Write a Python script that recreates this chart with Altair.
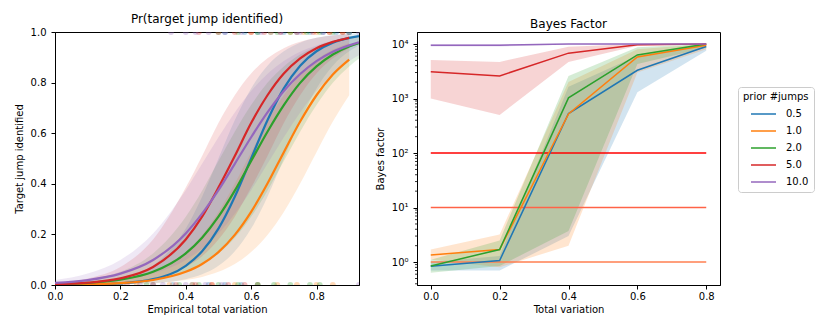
import altair as alt
import pandas as pd

PRIORS = ["0.5", "1.0", "2.0", "5.0", "10.0"]
COLORS = ["#1f77b4", "#ff7f0e", "#2ca02c", "#d62728", "#9467bd"]

# ---------------- left panel: logistic fits ----------------
TV_GRID = [0.0, 0.1, 0.2, 0.3, 0.4, 0.45, 0.5, 0.55, 0.6, 0.65, 0.7, 0.75, 0.8, 0.85, 0.9, 0.93]

P_MEAN_05 = [0.0006, 0.0019, 0.0067, 0.023, 0.076, 0.133, 0.223, 0.349, 0.5, 0.651, 0.777, 0.867, 0.924, 0.958, 0.977, 0.984]
P_LO_05 = [0.0002, 0.0006, 0.0019, 0.0067, 0.023, 0.042, 0.076, 0.133, 0.223, 0.349, 0.5, 0.651, 0.777, 0.867, 0.924, 0.947]
P_HI_05 = [0.0019, 0.0067, 0.023, 0.076, 0.223, 0.349, 0.5, 0.651, 0.777, 0.867, 0.924, 0.958, 0.977, 0.988, 0.993, 0.995]

P_MEAN_10 = [0.001, 0.0027, 0.0074, 0.0198, 0.052, 0.083, 0.13, 0.198, 0.289, 0.401, 0.525, 0.646, 0.75, 0.832, 0.891, None]
P_LO_10 = [0.0004, 0.001, 0.0027, 0.0074, 0.0198, 0.032, 0.052, 0.083, 0.13, 0.198, 0.289, 0.401, 0.525, 0.646, 0.75, None]
P_HI_10 = [0.0027, 0.0074, 0.0198, 0.052, 0.13, 0.198, 0.289, 0.401, 0.525, 0.646, 0.75, 0.832, 0.891, 0.931, 0.957, None]

P_MEAN_20 = [0.0032, 0.0082, 0.021, 0.052, 0.125, 0.187, 0.27, 0.373, 0.49, 0.606, 0.711, 0.799, 0.864, 0.911, 0.943, 0.956]
P_LO_20 = [0.0012, 0.0032, 0.0082, 0.021, 0.052, 0.082, 0.125, 0.187, 0.27, 0.373, 0.49, 0.606, 0.711, 0.799, 0.864, 0.895]
P_HI_20 = [0.0082, 0.021, 0.052, 0.125, 0.27, 0.373, 0.49, 0.606, 0.711, 0.799, 0.864, 0.911, 0.943, 0.964, 0.977, 0.983]

P_MEAN_50 = [0.0033, 0.0093, 0.026, 0.071, 0.18, 0.27, 0.385, 0.51, 0.64, 0.75, 0.836, 0.896, 0.936, 0.961, 0.977, None]
P_LO_50 = [0.0011, 0.0033, 0.0093, 0.026, 0.071, 0.114, 0.18, 0.27, 0.385, 0.51, 0.64, 0.75, 0.836, 0.896, 0.936, None]
P_HI_50 = [0.0093, 0.026, 0.071, 0.18, 0.385, 0.51, 0.64, 0.75, 0.836, 0.896, 0.936, 0.961, 0.977, 0.986, 0.992, None]

P_MEAN_100 = [0.0085, 0.0196, 0.045, 0.099, 0.204, 0.282, 0.375, 0.479, 0.584, 0.682, 0.767, 0.834, 0.885, 0.922, 0.947, 0.959]
P_LO_100 = [0.0037, 0.0085, 0.0196, 0.045, 0.099, 0.144, 0.204, 0.282, 0.375, 0.479, 0.584, 0.682, 0.767, 0.834, 0.885, 0.908]
P_HI_100 = [0.0196, 0.045, 0.099, 0.204, 0.375, 0.479, 0.584, 0.682, 0.767, 0.834, 0.885, 0.922, 0.947, 0.965, 0.977, 0.982]

P_MEAN = [P_MEAN_05, P_MEAN_10, P_MEAN_20, P_MEAN_50, P_MEAN_100]
P_LO = [P_LO_05, P_LO_10, P_LO_20, P_LO_50, P_LO_100]
P_HI = [P_HI_05, P_HI_10, P_HI_20, P_HI_50, P_HI_100]

# observed outcomes (identified = 1, missed = 0)
HITS_05 = [0.52, 0.58, 0.62, 0.66, 0.70, 0.74, 0.78, 0.82, 0.86, 0.90]
HITS_10 = [0.60, 0.66, 0.72, 0.76, 0.80, 0.84, 0.88]
HITS_20 = [0.50, 0.56, 0.62, 0.68, 0.72, 0.77, 0.81, 0.85, 0.90]
HITS_50 = [0.44, 0.50, 0.55, 0.60, 0.64, 0.69, 0.74, 0.79, 0.84, 0.88]
HITS_100 = [0.355, 0.40, 0.43, 0.47, 0.52, 0.57, 0.63, 0.69, 0.75, 0.82, 0.90, 0.93]
MISS_05 = [0.05, 0.20, 0.30, 0.36, 0.42, 0.47, 0.52, 0.57, 0.62]
MISS_10 = [0.10, 0.25, 0.35, 0.42, 0.48, 0.55, 0.62, 0.68, 0.74, 0.80, 0.85]
MISS_20 = [0.02, 0.15, 0.28, 0.38, 0.44, 0.50, 0.56, 0.62, 0.67, 0.72, 0.78, 0.81]
MISS_50 = [0.0, 0.12, 0.22, 0.30, 0.37, 0.43, 0.48, 0.53, 0.58]
MISS_100 = [0.03, 0.18, 0.26, 0.33, 0.40, 0.46, 0.51, 0.93]
HITS = [HITS_05, HITS_10, HITS_20, HITS_50, HITS_100]
MISSES = [MISS_05, MISS_10, MISS_20, MISS_50, MISS_100]

# ---------------- right panel: Bayes factor ----------------
BF_TV = [0.0, 0.2, 0.4, 0.6, 0.8]
BF_MEAN = [
    [0.84, 1.07, 530, 3300, 9000],
    [1.35, 1.7, 520, 5800, 9500],
    [0.85, 1.7, 1030, 6300, 10000],
    [3100, 2600, 6800, 9700, 10000],
    [9500, 9500, 10000, 10000, 10000],
]
BF_LO = [
    [0.7, 0.7, 3.0, 1300, 7500],
    [1.12, 0.8, 2.0, 3000, 8000],
    [0.64, 0.85, 3.7, 4300, 8500],
    [1000, 500, 4700, 9300, 9800],
    [9000, 9000, 9800, 9800, 9800],
]
BF_HI = [
    [1.0, 1.3, 1650, 6100, 10000],
    [1.7, 3.2, 2000, 8000, 10000],
    [1.1, 2.5, 2600, 8700, 10000],
    [5100, 4700, 8900, 10000, 10000],
    [10000, 10000, 10000, 10000, 10000],
]
THRESHOLDS = [1, 10, 100]
THRESH_COLORS = ["coral", "tomato", "red"]
MINOR_TICKS = [0.4, 0.5, 0.6, 0.7, 0.8, 0.9, 2, 3, 4, 5, 6, 7, 8, 9, 20, 30, 40, 50, 60, 70, 80, 90,
               200, 300, 400, 500, 600, 700, 800, 900, 2000, 3000, 4000, 5000, 6000, 7000, 8000, 9000]

# ---------------- build tables ----------------
rows = []
for p, m, lo, hi in zip(PRIORS, P_MEAN, P_LO, P_HI):
    for x, a, b, c in zip(TV_GRID, m, lo, hi):
        if a is not None:
            rows.append({"prior": p, "tv": x, "p": a, "lo": b, "hi": c})
fit_df = pd.DataFrame(rows)

pts = []
for p, h, ms in zip(PRIORS, HITS, MISSES):
    for x in h:
        pts.append({"prior": p, "tv": x, "y": 1.0})
    for x in ms:
        pts.append({"prior": p, "tv": x, "y": 0.0})
pts_df = pd.DataFrame(pts)

bf_rows = []
for p, m, lo, hi in zip(PRIORS, BF_MEAN, BF_LO, BF_HI):
    for x, a, b, c in zip(BF_TV, m, lo, hi):
        bf_rows.append({"prior": p, "tv": x, "bf": a, "lo": b, "hi": c})
bf_df = pd.DataFrame(bf_rows)

th_df = pd.DataFrame({"y": THRESHOLDS, "c": THRESH_COLORS, "x0": [0.0] * 3, "x1": [0.8] * 3})
minor_df = pd.DataFrame({"y": MINOR_TICKS})

color = alt.Color("prior:N", scale=alt.Scale(domain=PRIORS, range=COLORS),
                  legend=alt.Legend(title="prior #jumps"), sort=PRIORS)

FONT = "DejaVu Sans"

# ---------------- left chart ----------------
xl = alt.X("tv:Q", scale=alt.Scale(domain=[0, 0.93], nice=False, zero=False),
           axis=alt.Axis(title="Empirical total variation", values=[0, 0.2, 0.4, 0.6, 0.8], format=".1f"))
yl_axis = alt.Axis(title="Target jump identified", values=[0, 0.2, 0.4, 0.6, 0.8, 1.0], format=".1f")
ysc = alt.Scale(domain=[0, 1], nice=False)

dots = alt.Chart(pts_df).mark_circle(size=34, opacity=0.3, clip=True).encode(
    x=xl, y=alt.Y("y:Q", scale=ysc, axis=yl_axis), color=color)
band_l = alt.Chart(fit_df).mark_area(opacity=0.15, interpolate="monotone", clip=True).encode(
    x=xl, y=alt.Y("lo:Q", scale=ysc, axis=yl_axis), y2="hi:Q", color=color)
line_l = alt.Chart(fit_df).mark_line(strokeWidth=2.2, interpolate="monotone", clip=True).encode(
    x=xl, y=alt.Y("p:Q", scale=ysc, axis=yl_axis), color=color)

left = alt.layer(dots, band_l, line_l).properties(
    width=304, height=253,
    title=alt.TitleParams("Pr(target jump identified)", offset=1))

# ---------------- right chart ----------------
xr = alt.X("tv:Q", scale=alt.Scale(domain=[-0.04, 0.84], nice=False, zero=False),
           axis=alt.Axis(title="Total variation", values=[0, 0.2, 0.4, 0.6, 0.8], format=".1f"))
yr_scale = alt.Scale(type="log", domain=[0.38, 16600], nice=False)
yr_axis = alt.Axis(title="Bayes factor", values=[1, 10, 100, 1000, 10000],
                   labelExpr="datum.value == 1 ? '10⁰' : datum.value == 10 ? '10¹' : datum.value == 100 ? '10²' : datum.value == 1000 ? '10³' : '10⁴'")

band_r = alt.Chart(bf_df).mark_area(opacity=0.2).encode(
    x=xr, y=alt.Y("lo:Q", scale=yr_scale, axis=yr_axis), y2="hi:Q", color=color)
line_r = alt.Chart(bf_df).mark_line(strokeWidth=1.5).encode(
    x=xr, y=alt.Y("bf:Q", scale=yr_scale, axis=yr_axis), color=color)
hlines = alt.Chart(th_df).mark_rule(strokeWidth=1.5).encode(
    x=alt.X("x0:Q", scale=alt.Scale(domain=[-0.04, 0.84], nice=False, zero=False)), x2="x1:Q",
    y=alt.Y("y:Q", scale=yr_scale, axis=yr_axis),
    color=alt.Color("c:N", scale=None, legend=None))
minor = alt.Chart(minor_df).mark_rule(strokeWidth=0.8, color="black").encode(
    x=alt.value(0), x2=alt.value(-2),
    y=alt.Y("y:Q", scale=yr_scale, axis=yr_axis))

right = alt.layer(band_r, hlines, line_r, minor).properties(
    width=303, height=253,
    title=alt.TitleParams("Bayes Factor", offset=1))

chart = alt.hconcat(left, right, spacing=14).properties(
    padding={"left": 5, "top": 4, "right": 0, "bottom": 0}
).configure_view(stroke="black", strokeWidth=1).configure_axis(
    labelFont=FONT, titleFont=FONT, labelFontSize=10, titleFontSize=10,
    titleFontWeight="normal", labelColor="black", titleColor="black",
    tickColor="black", domainColor="black", tickSize=4, grid=False,
    labelFlush=False
).configure_axisX(labelPadding=2, titlePadding=3
).configure_axisY(labelPadding=5, titlePadding=6
).configure_title(font=FONT, fontSize=12, fontWeight="normal", color="black"
).configure_legend(
    titleFont=FONT, labelFont=FONT, titleFontSize=10, labelFontSize=10,
    titleFontWeight="normal", labelColor="black", titleColor="black",
    symbolType="M0.4,0H5.4", symbolStrokeWidth=1.5, symbolSize=100, symbolOpacity=1,
    symbolFillColor="transparent", labelOffset=31, titlePadding=6,
    strokeColor="#cccccc", cornerRadius=3, padding=5, fillColor="white",
    rowPadding=6, orient="none", legendX=683, legendY=55
)

chart.save("out.html", embed_options={"renderer": "svg", "actions": False})
